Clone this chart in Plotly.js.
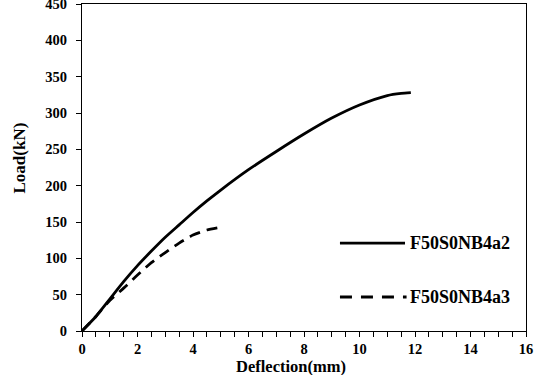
<!DOCTYPE html>
<html>
<head>
<meta charset="utf-8">
<script src="https://cdn.plot.ly/plotly-3.0.1.min.js"></script>
<style>
html, body { margin: 0; padding: 0; background: #fff; }
#chart { width: 538px; height: 375px; }
</style>
</head>
<body>
<div id="chart"></div>
<script>
// Series names
const seriesNames = ["F50S0NB4a2", "F50S0NB4a3"];

// Series 1: F50S0NB4a2 (solid)
const deflA = [0, 0.5, 1.0, 1.5, 2.0, 2.5, 3.0, 3.5, 4.0, 4.5, 5.0, 6.0, 7.0, 8.0, 9.0, 10.0, 11.0, 11.5, 11.85];
const loadA = [0, 20, 44, 68, 90, 110, 129, 146, 163, 179, 194, 222, 247, 271, 293, 311, 324, 327, 328];

// Series 2: F50S0NB4a3 (dashed)
const deflB = [0, 0.5, 1.0, 1.5, 2.0, 2.5, 3.0, 3.5, 4.0, 4.5, 5.05];
const loadB = [0, 20, 42, 59, 77, 94, 108, 121, 132, 139, 143];

// Axis ticks
const xTickVals = [0, 2, 4, 6, 8, 10, 12, 14, 16];
const yTickVals = [0, 50, 100, 150, 200, 250, 300, 350, 400, 450];

const FONT = "'Liberation Serif', 'Times New Roman', serif";

const traces = [
  {
    x: deflA, y: loadA, type: "scatter", mode: "lines", name: seriesNames[0],
    line: { color: "#000", width: 2.8, shape: "spline", smoothing: 0.6 },
    showlegend: false
  },
  {
    x: deflB, y: loadB, type: "scatter", mode: "lines", name: seriesNames[1],
    line: { color: "#000", width: 2.8, dash: "11px,7px", shape: "spline", smoothing: 0.6 },
    showlegend: false
  }
];

const layout = {
  width: 538, height: 375,
  margin: { l: 82, r: 12, t: 4, b: 44 },
  paper_bgcolor: "#fff", plot_bgcolor: "#fff",
  font: { family: FONT, color: "#000" },
  showlegend: false,
  xaxis: {
    range: [0, 16], tickvals: xTickVals, ticktext: xTickVals.map(String),
    showgrid: false, zeroline: false,
    showline: true, linecolor: "#000", linewidth: 1, mirror: true,
    ticks: "outside", ticklen: 5, tickcolor: "#000", tickwidth: 1,
    ticklabelstandoff: 0,
    ticklabeloverflow: "allow",
    minor: { dtick: 0.5, ticks: "outside", ticklen: 5, tickcolor: "#000", tickwidth: 1, showgrid: false },
    tickfont: { family: FONT, size: 14.5, color: "#000", weight: "bold" },
    fixedrange: true
  },
  yaxis: {
    range: [0, 450], tickvals: yTickVals, ticktext: yTickVals.map(String),
    showgrid: false, zeroline: false,
    showline: true, linecolor: "#000", linewidth: 1, mirror: true,
    ticks: "outside", ticklen: 5, tickcolor: "#000", tickwidth: 1,
    ticklabelstandoff: 6,
    ticklabeloverflow: "allow",
    tickfont: { family: FONT, size: 14.5, color: "#000", weight: "bold" },
    fixedrange: true
  },
  shapes: [
    { type: "line", xref: "paper", yref: "paper", x0: 0.581, x1: 0.7275, y0: 0.269, y1: 0.269,
      line: { color: "#000", width: 2.8 } },
    { type: "line", xref: "paper", yref: "paper", x0: 0.581, x1: 0.731, y0: 0.104, y1: 0.104,
      line: { color: "#000", width: 2.8, dash: "12px,9px" } }
  ],
  annotations: [
    { text: "<b>" + seriesNames[0] + "</b>", xref: "paper", yref: "paper", x: 0.734, y: 0.269,
      xanchor: "left", yanchor: "middle", showarrow: false,
      font: { family: FONT, size: 18, color: "#000" } },
    { text: "<b>" + seriesNames[1] + "</b>", xref: "paper", yref: "paper", x: 0.734, y: 0.104,
      xanchor: "left", yanchor: "middle", showarrow: false,
      font: { family: FONT, size: 18, color: "#000" } },
    { text: "<b>Deflection(mm)</b>", xref: "paper", yref: "paper", x: 0.47, y: -0.108,
      xanchor: "center", yanchor: "middle", showarrow: false,
      font: { family: FONT, size: 16.5, color: "#000" } },
    { text: "<b>Load(kN)</b>", xref: "paper", yref: "paper", x: -0.14, y: 0.53,
      xanchor: "center", yanchor: "middle", showarrow: false, textangle: -90,
      font: { family: FONT, size: 17, color: "#000" } }
  ]
};

Plotly.newPlot("chart", traces, layout, { displayModeBar: false, staticPlot: true });
</script>
</body>
</html>
